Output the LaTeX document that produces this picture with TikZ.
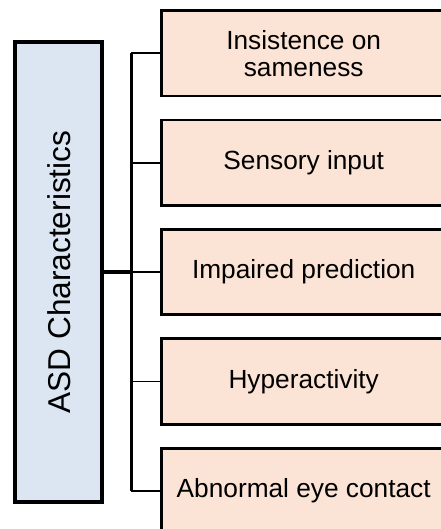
\documentclass[tikz,border=0pt]{standalone}
\usepackage{fontspec}
\setmainfont{Liberation Sans}
\definecolor{leftfill}{HTML}{DCE6F2}
\definecolor{rightfill}{HTML}{FBE4D6}
\begin{document}
\begin{tikzpicture}[x=0.75pt,y=-0.75pt,
  leftbox/.style={draw=black, line width=3pt, fill=leftfill, minimum width=64.9pt, minimum height=345pt, inner sep=0pt, font=\fontsize{23.7}{26}\selectfont},
  rightbox/.style={draw=black, line width=2pt, fill=rightfill, minimum width=213.5pt, minimum height=64.1pt, inner sep=0pt, align=center, font=\fontsize{19.7}{20.3}\selectfont},
  trunk/.style={line width=2.4pt},
  spine/.style={line width=1.8pt},
  tick/.style={line width=1.4pt}]
\useasboundingbox (0,0) rectangle (441,529);
\clip (0,0) rectangle (441,529);
\node[leftbox] (asd) at (58.75,272) {\rotatebox{90}{ASD Characteristics}};
\node[rightbox] (b1) at (303.7,53.3) {Insistence on\\sameness};
\node[rightbox] (b2) at (303.7,162.7) {Sensory input};
\node[rightbox] (b3) at (303.7,272) {Impaired prediction};
\node[rightbox] (b4) at (303.7,381.5) {Hyperactivity};
\node[rightbox] (b5) at (303.7,491) {Abnormal eye contact};
\coordinate (jn) at (131.3,272);
\draw[trunk] (asd.east |- jn) -- (jn);
\draw[spine] (b1.west -| jn) -- (b5.west -| jn);
\foreach \b in {b1,b2,b3,b4,b5}{
  \draw[tick] (\b.west -| jn) -- (\b.west);
}
\end{tikzpicture}
\end{document}
